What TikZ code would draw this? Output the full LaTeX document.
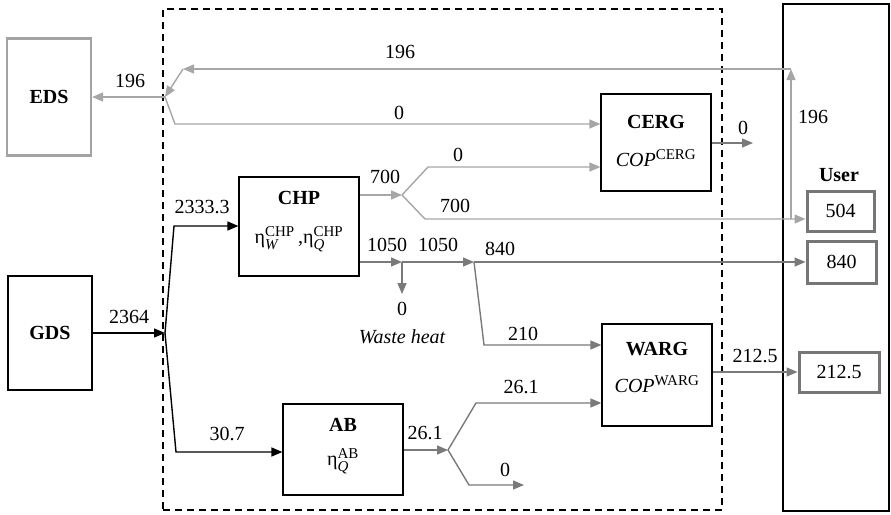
\documentclass[tikz,border=0pt]{standalone}
\usepackage{amsmath}
\usepackage{fontspec}
\setmainfont{Liberation Serif}
\usetikzlibrary{arrows.meta}
\newcommand{\scrtext}[1]{\text{\fontsize{15}{16}\selectfont #1}}
\definecolor{lightline}{HTML}{A6A6A6}
\definecolor{darkline}{HTML}{7A7A7A}
\definecolor{edsgray}{HTML}{A3A3A3}
\definecolor{usergray}{HTML}{767676}
\tikzset{
  lbl/.style={font=\fontsize{20}{24}\selectfont,inner sep=0pt},
  unitname/.style={font=\bfseries\fontsize{20}{24}\selectfont,inner sep=0pt},
  unit/.style={draw=black,line width=1.2pt,fill=white,inner sep=0pt},
  edsbox/.style={draw=edsgray,line width=2.2pt,fill=white,inner sep=0pt,font=\bfseries\fontsize{20}{24}\selectfont},
  demand/.style={draw=usergray,line width=3pt,fill=white,inner sep=0pt,font=\fontsize{20}{24}\selectfont},
  sysbox/.style={draw=black,dashed,dash pattern=on 7pt off 5pt,line width=1.2pt,inner sep=0pt},
  arrblack/.style={-{Triangle[length=11pt,width=9pt]},draw=black,line width=1.4pt},
  arrlight/.style={-{Triangle[length=11pt,width=9pt]},draw=lightline,line width=1.4pt},
  arrdark/.style={-{Triangle[length=11pt,width=9pt]},draw=darkline,line width=1.4pt}
}

\begin{document}
\begin{tikzpicture}[x=1pt,y=-1pt]
\path[use as bounding box] (0,0) rectangle (891,514);
% frames
\node[sysbox,minimum width=559pt,minimum height=501pt] (plant) at (442.5,259.5) {};
\node[unit,fill=none,minimum width=106pt,minimum height=507pt] (user) at (836,257.5) {};
% supply and conversion units
\node[edsbox,minimum width=84pt,minimum height=117pt] (eds) at (49,97) {EDS};
\node[unit,font=\bfseries\fontsize{20}{24}\selectfont,minimum width=84pt,minimum height=114pt] (gds) at (50,333) {GDS};
\node[unit,minimum width=120pt,minimum height=99pt] (chp) at (299,226.5) {};
\node[unit,minimum width=110pt,minimum height=97pt] (cerg) at (656,142.5) {};
\node[unit,minimum width=110pt,minimum height=102pt] (warg) at (657,375) {};
\node[unit,minimum width=120pt,minimum height=91pt] (ab) at (343,449.5) {};
\node[unitname] (chpname) at (299,198) {CHP};
\node[lbl] (chpeff) at (299,239) {$\text{η}^{\scrtext{CHP}}_{\scrtext{\itshape W}}$\,,$\text{η}^{\scrtext{CHP}}_{\scrtext{\itshape Q}}$};
\node[unitname] (cergname) at (656,122) {CERG};
\node[lbl] (cergcop) at (656,158) {$\textit{COP}^{\scrtext{CERG}}$};
\node[unitname] (wargname) at (657,349) {WARG};
\node[lbl] (wargcop) at (657,384) {$\textit{COP}^{\scrtext{WARG}}$};
\node[unitname] (abname) at (343,425) {AB};
\node[lbl] (abeff) at (343,461) {$\text{η}^{\scrtext{AB}}_{\scrtext{\itshape Q}}$};
% user demands
\node[unitname] (username) at (839,175) {User};
\node[demand,minimum width=67pt,minimum height=40pt] (u504) at (840.5,211) {504};
\node[demand,minimum width=69pt,minimum height=42pt] (u840) at (841.5,262) {840};
\node[demand,minimum width=80pt,minimum height=40pt] (u212) at (839,372) {212.5};
% junctions and bends
\coordinate (jE) at (165,97); \coordinate (jE2) at (175,124);
\coordinate (tR) at (791,69); \coordinate (tL) at (183,69); \coordinate (jU) at (791,219);
\coordinate (jG) at (165,333); \coordinate (bU) at (174,226); \coordinate (bD) at (176,452);
\coordinate (j7) at (402,195); \coordinate (b7a) at (428,167); \coordinate (b7b) at (425,219);
\coordinate (j10a) at (402,262); \coordinate (j10b) at (474,262); \coordinate (wdown) at (402,294); \coordinate (b21) at (484,345);
\coordinate (jA) at (448,450); \coordinate (bA1) at (476,403); \coordinate (bA2) at (469,485); \coordinate (aEnd) at (524,485);
\coordinate (cOut) at (753,143);
% electricity loop
\draw[arrlight] (jU)--(tR);
\draw[arrlight] (tR)--(tL);
\draw[arrlight] (tL)--(jE);
\draw[arrlight] (jE)--(jE-|eds.east);
\draw[arrlight] (jE)--(jE2)--(jE2-|cerg.west);
\draw[arrdark] (cerg.east|-cOut)--(cOut);
% gas
\draw[arrblack] (gds.east|-jG)--(jG);
\draw[arrblack] (jG)--(bU)--(bU-|chp.west);
\draw[arrblack] (jG)--(bD)--(bD-|ab.west);
% CHP outputs
\draw[arrlight] (chp.east|-j7)--(j7);
\draw[arrlight] (j7)--(b7a)--(b7a-|cerg.west);
\draw[arrlight] (j7)--(b7b)--(b7b-|u504.west);
\draw[arrdark] (chp.east|-j10a)--(j10a);
\draw[arrdark] (j10a)--(wdown);
\draw[arrdark] (j10a)--(j10b);
\draw[arrdark] (j10b)--(j10b-|u840.west);
\draw[arrdark] (j10b)--(b21)--(b21-|warg.west);
% AB outputs
\draw[arrdark] (ab.east|-jA)--(jA);
\draw[arrdark] (jA)--(bA1)--(bA1-|warg.west);
\draw[arrdark] (jA)--(bA2)--(aEnd);
\draw[arrdark] (warg.east|-u212)--(u212.west);
% flow values
\node[lbl] (v196a) at (130,81) {196};
\node[lbl] (v196b) at (400,52) {196};
\node[lbl] (v0a) at (399,113) {0};
\node[lbl] (v196c) at (813,117) {196};
\node[lbl] (v0cerg) at (743,128) {0};
\node[lbl] (v700a) at (385,177) {700};
\node[lbl] (v0b) at (458,155) {0};
\node[lbl] (v700b) at (455,206) {700};
\node[lbl] (v2333) at (202,207) {2333.3};
\node[lbl] (v2364) at (129,317) {2364};
\node[lbl] (v1050a) at (387,245) {1050};
\node[lbl] (v1050b) at (438,245) {1050};
\node[lbl] (v840) at (500,249) {840};
\node[lbl] (v0w) at (402,309) {0};
\node[lbl,font=\itshape\fontsize{20}{24}\selectfont] (waste) at (402,337) {Waste heat};
\node[lbl] (v210) at (523,334) {210};
\node[lbl] (v212) at (755,356) {212.5};
\node[lbl] (v307) at (227,434) {30.7};
\node[lbl] (v261a) at (425,433) {26.1};
\node[lbl] (v261b) at (521,387) {26.1};
\node[lbl] (v0c) at (505,470) {0};
\end{tikzpicture}
\end{document}
